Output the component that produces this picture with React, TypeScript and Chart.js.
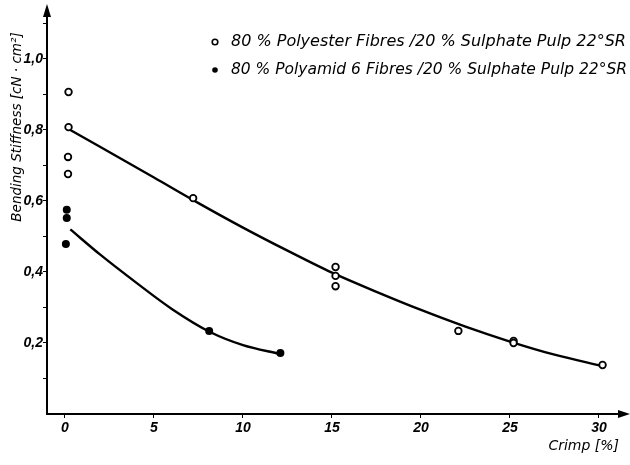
import React, { useEffect, useRef } from 'react';
import { Chart, registerables } from 'chart.js';

Chart.register(...registerables);

// measured points
const polyesterX = [0.2, 0.2, 0.17, 0.17, 7.2, 15.2, 15.2, 15.2, 22.1, 25.2, 25.2, 30.2];
const polyesterY = [0.907, 0.808, 0.724, 0.676, 0.608, 0.414, 0.389, 0.36, 0.234, 0.206, 0.2, 0.138];
const polyamidX = [0.1, 0.1, 0.05, 8.1, 12.1];
const polyamidY = [0.575, 0.552, 0.479, 0.234, 0.172];

// fitted curves
const polyesterFitX = [0.3, 5, 7.5, 10, 12.5, 15, 17.5, 20, 22.5, 25, 27.5, 30.2];
const polyesterFitY = [0.8, 0.666, 0.594, 0.525, 0.46, 0.398, 0.344, 0.293, 0.246, 0.204, 0.167, 0.135];
const polyamidFitX = [0.3, 2, 4, 6, 8.15, 10, 12.08];
const polyamidFitY = [0.52, 0.448, 0.37, 0.296, 0.231, 0.194, 0.169];

const seriesLabels = [
  '80 % Polyester Fibres /20 % Sulphate Pulp 22°SR',
  '80 % Polyamid 6 Fibres /20 % Sulphate Pulp 22°SR',
];
const yTickValues = [0.2, 0.4, 0.6, 0.8, 1.0];
const yTickLabels = ['0,2', '0,4', '0,6', '0,8', '1,0'];
const xTickValues = [0, 5, 10, 15, 20, 25, 30];
const xTickLabels = ['0', '5', '10', '15', '20', '25', '30'];
const yTitle = 'Bending Stiffness [cN · cm²]';
const xTitle = 'Crimp [%]';

const pts = (xs: number[], ys: number[]) => xs.map((x, i) => ({ x, y: ys[i] }));

const FONT = 'DejaVu Sans';
const TICKFONT = '"Liberation Sans Narrow", "Liberation Sans", sans-serif';

const decorPlugin = {
  id: 'decor',
  afterDraw(chart: any) {
    const ctx = chart.ctx as CanvasRenderingContext2D;
    const { left, right, top, bottom } = chart.chartArea;
    ctx.save();
    ctx.fillStyle = '#000';
    // y arrow
    ctx.beginPath();
    ctx.moveTo(left, top - 12);
    ctx.lineTo(left - 4, top + 1);
    ctx.lineTo(left + 4, top + 1);
    ctx.closePath();
    ctx.fill();
    // x arrow
    ctx.beginPath();
    ctx.moveTo(right + 10, bottom);
    ctx.lineTo(right - 2, bottom - 4);
    ctx.lineTo(right - 2, bottom + 4);
    ctx.closePath();
    ctx.fill();

    // legend
    ctx.font = `italic 16px "${FONT}"`;
    ctx.textBaseline = 'middle';
    ctx.textAlign = 'left';
    const rows = [42, 70];
    seriesLabels.forEach((lab, i) => {
      const y = rows[i];
      ctx.beginPath();
      ctx.arc(215, y, 2.8, 0, Math.PI * 2);
      if (i === 0) {
        ctx.lineWidth = 1.6;
        ctx.strokeStyle = '#000';
        ctx.stroke();
      } else {
        ctx.fill();
      }
      ctx.fillText(lab, 231, y, 396);
    });

    // y title
    ctx.save();
    ctx.translate(17, 127);
    ctx.rotate(-Math.PI / 2);
    ctx.textAlign = 'center';
    ctx.font = `italic 13.5px "${FONT}"`;
    ctx.fillText(yTitle, 0, 0);
    ctx.restore();

    // x title
    ctx.textAlign = 'right';
    ctx.font = `italic 14px "${FONT}"`;
    ctx.fillText(xTitle, 619, 446);
    ctx.restore();
  },
};

export default function App() {
  const ref = useRef<HTMLCanvasElement>(null);
  useEffect(() => {
    document.body.style.margin = '0';
    const canvas = ref.current!;
    const chart = new Chart(canvas, {
      type: 'scatter',
      data: {
        datasets: [
          {
            label: seriesLabels[0],
            data: pts(polyesterX, polyesterY),
            pointRadius: 3.3,
            pointBorderWidth: 1.8,
            pointBackgroundColor: '#fff',
            pointBorderColor: '#000',
            showLine: false,
            order: 0,
          },
          {
            label: seriesLabels[1],
            data: pts(polyamidX, polyamidY),
            pointRadius: 4,
            pointBorderWidth: 0,
            pointBackgroundColor: '#000',
            pointBorderColor: '#000',
            showLine: false,
            order: 0,
          },
          {
            label: 'fit1',
            data: pts(polyesterFitX, polyesterFitY),
            showLine: true,
            borderColor: '#000',
            borderWidth: 2.4,
            pointRadius: 0,
            cubicInterpolationMode: 'monotone',
            order: 1,
          },
          {
            label: 'fit2',
            data: pts(polyamidFitX, polyamidFitY),
            showLine: true,
            borderColor: '#000',
            borderWidth: 2.4,
            pointRadius: 0,
            cubicInterpolationMode: 'monotone',
            order: 1,
          },
        ],
      },
      options: {
        animation: false,
        responsive: false,
        maintainAspectRatio: false,
        layout: { padding: { top: 16, right: 10, left: 0, bottom: 0 } },
        plugins: { legend: { display: false }, tooltip: { enabled: false } },
        scales: {
          x: {
            type: 'linear',
            min: -1.01,
            max: 31.18,
            afterFit: (s: any) => { s.height = 51; },
            afterBuildTicks: (s: any) => { s.ticks = xTickValues.map((v) => ({ value: v })); },
            ticks: {
              color: '#000',
              font: { family: TICKFONT, style: 'italic', weight: 'bold', size: 14 },
              padding: 2,
              maxRotation: 0,
              callback: (v: any) => {
                const i = xTickValues.indexOf(Number(v));
                return i >= 0 ? xTickLabels[i] : '';
              },
            },
            grid: { drawOnChartArea: false, color: '#000', tickLength: 4, lineWidth: 1 },
            border: { display: true, color: '#000', width: 2 },
          },
          y: {
            type: 'linear',
            min: 0,
            max: 1.121,
            afterFit: (s: any) => { s.width = 47; },
            afterBuildTicks: (s: any) => {
              const t = [];
              for (let i = 1; i <= 11; i++) t.push({ value: Math.round(i * 10) / 100 });
              s.ticks = t;
            },
            ticks: {
              color: '#000',
              font: { family: TICKFONT, style: 'italic', weight: 'bold', size: 14 },
              padding: 0,
              callback: (v: any) => {
                const i = yTickValues.findIndex((t) => Math.abs(t - Number(v)) < 1e-6);
                return i >= 0 ? yTickLabels[i] : '';
              },
            },
            grid: { drawOnChartArea: false, color: '#000', tickLength: 4, lineWidth: 1 },
            border: { display: true, color: '#000', width: 2 },
          },
        },
      },
      plugins: [decorPlugin],
    });
    return () => chart.destroy();
  }, []);
  return <canvas ref={ref} width={630} height={465} style={{ display: 'block' }} />;
}
